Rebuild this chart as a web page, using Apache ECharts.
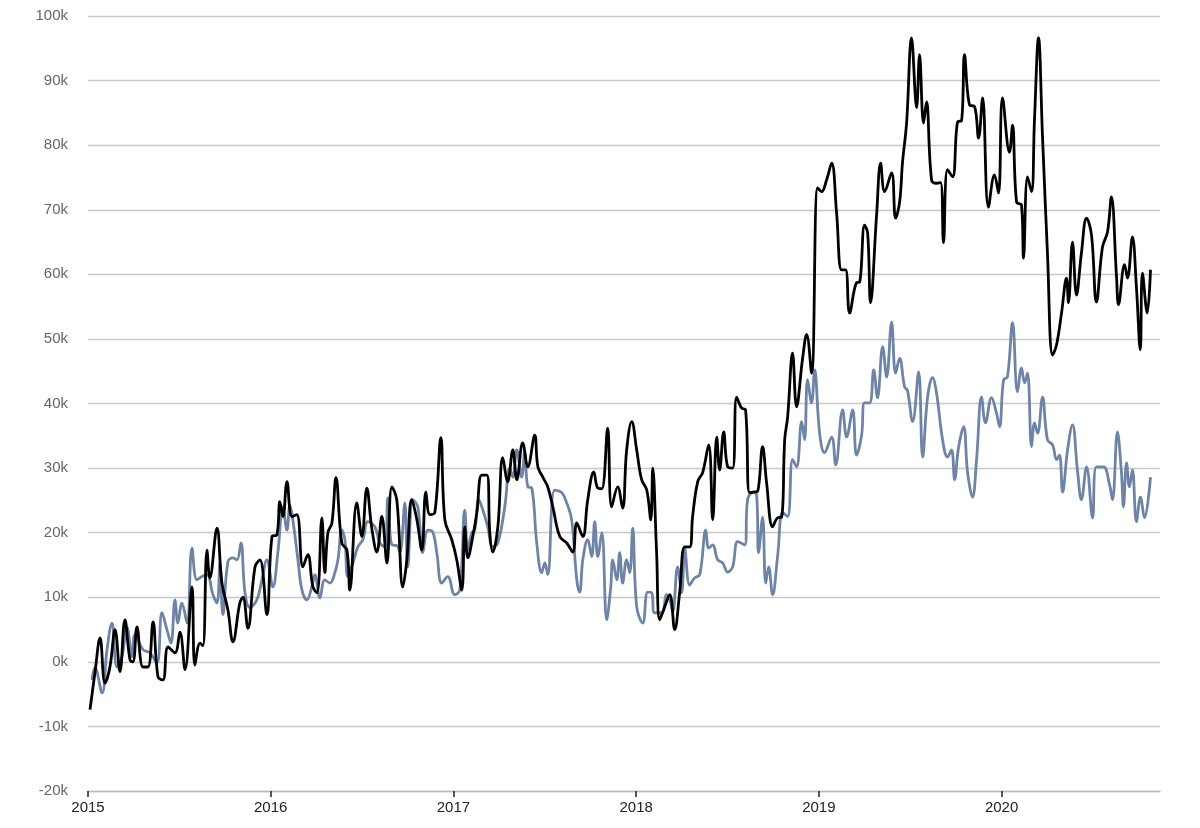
<!DOCTYPE html>
<html><head><meta charset="utf-8">
<script src="https://cdn.jsdelivr.net/npm/echarts@6/dist/echarts.min.js"></script>
<style>html,body{margin:0;padding:0;background:#fff}#c{width:1200px;height:828px}</style>
</head><body><div id="c"></div>
<script>
// years after 2015 (decimal) and values in thousands
const blackT = [0.011,0.038,0.066,0.093,0.120,0.148,0.175,0.202,0.230,0.246,0.268,0.301,0.328,0.356,0.383,0.410,0.438,0.476,0.503,0.531,0.569,0.585,0.613,0.629,0.651,0.667,0.706,0.733,0.766,0.793,0.831,0.848,0.875,0.914,0.941,0.979,1.007,1.034,1.050,1.067,1.089,1.116,1.143,1.176,1.203,1.231,1.253,1.280,1.296,1.313,1.335,1.357,1.389,1.417,1.433,1.471,1.499,1.526,1.553,1.581,1.608,1.636,1.663,1.690,1.723,1.745,1.772,1.800,1.827,1.849,1.871,1.898,1.931,1.953,1.991,2.018,2.046,2.062,2.079,2.106,2.128,2.155,2.183,2.199,2.215,2.243,2.270,2.297,2.325,2.347,2.379,2.407,2.445,2.462,2.489,2.516,2.544,2.582,2.620,2.653,2.675,2.708,2.735,2.768,2.790,2.812,2.844,2.866,2.899,2.926,2.948,2.976,3.003,3.030,3.058,3.080,3.091,3.112,3.129,3.156,3.184,3.211,3.238,3.266,3.293,3.309,3.337,3.364,3.397,3.419,3.441,3.457,3.479,3.501,3.528,3.550,3.577,3.599,3.621,3.648,3.665,3.692,3.714,3.747,3.774,3.796,3.813,3.829,3.856,3.878,3.911,3.933,3.960,3.993,4.015,4.042,4.070,4.097,4.124,4.146,4.168,4.206,4.223,4.250,4.267,4.283,4.316,4.338,4.360,4.398,4.420,4.442,4.458,4.480,4.507,4.535,4.551,4.573,4.589,4.617,4.644,4.666,4.682,4.704,4.732,4.759,4.781,4.797,4.825,4.852,4.874,4.896,4.928,4.961,4.983,5.005,5.043,5.060,5.082,5.109,5.120,5.142,5.164,5.180,5.202,5.224,5.251,5.279,5.301,5.328,5.355,5.366,5.388,5.410,5.437,5.465,5.492,5.519,5.552,5.580,5.601,5.629,5.640,5.673,5.689,5.716,5.738,5.759,5.771,5.797,5.815];
const blackV = [-7.4,-1.7,3.7,-3.3,-0.8,5,-1.5,6.5,0.3,0,5.4,-0.8,-0.8,6.2,-2.3,-2.8,2.3,1.4,4.6,-1.2,11.6,-0.5,2.9,2.5,17.3,13,20.7,12.2,8,3.1,9.1,10,5.2,14.7,15.8,7.3,19.4,19.7,24.8,22.5,27.9,22.5,22.8,14.7,16.6,11.6,10.7,22.3,13.8,20,21.5,28.5,18.4,17.3,11.1,24.6,19.4,26.9,20.7,17,22.5,15.3,27.1,25.1,11.6,15.8,25.1,22,17.3,26.3,22.8,23.1,34.7,22,18.9,15.8,11.1,20.9,16.1,19.4,23.1,28.9,28.9,20,17,20.9,31.6,27.9,32.8,28.2,33.9,30.2,35.1,30.2,28.6,27.1,24,19.4,18.4,17,21.5,19.4,25.1,29.4,26.9,26.8,36.2,24,27.1,23.8,32.8,37.2,32.8,28.2,26.6,22,30,16.9,6.5,8.5,10.4,5,10.7,17.8,17.8,22.5,27.9,29.3,33.6,22,34.8,29.7,35.6,30.2,30,41,39.3,39,26.2,26.3,26.4,33.3,27.7,20.9,22.3,22.4,34.4,37.9,47.8,39.5,47,50.7,44.7,73.4,72.8,74.6,77.2,69.5,60.7,60.7,54,58.7,58.8,67.6,66.4,55.6,69.2,77.2,72.8,75.7,68.7,71.2,77.4,83.4,96.6,85.8,94,83.4,86.7,74.6,74.1,74.2,64.9,76.2,75.1,83.6,83.8,94,86.2,86,81.1,87.3,70.4,75.4,72.6,87.3,78.9,83.1,71.2,70.7,62.5,75.1,72.8,83.9,96.6,81.3,63.3,47.5,49.1,54,59.4,55.6,65,56.8,63.3,68.7,66.1,55.7,64.2,66.6,72,59.6,55.3,61.5,59.4,65.8,58,48.3,60.2,54,60.7];
const blueT = [0.022,0.038,0.077,0.104,0.131,0.159,0.186,0.213,0.241,0.257,0.301,0.339,0.377,0.405,0.432,0.454,0.476,0.492,0.514,0.542,0.569,0.596,0.624,0.651,0.684,0.706,0.722,0.738,0.766,0.793,0.815,0.837,0.859,0.886,0.924,0.952,0.979,1.012,1.039,1.067,1.089,1.105,1.121,1.149,1.171,1.198,1.225,1.242,1.269,1.296,1.324,1.351,1.368,1.389,1.406,1.422,1.450,1.477,1.504,1.532,1.570,1.597,1.625,1.641,1.663,1.690,1.707,1.734,1.750,1.778,1.805,1.832,1.860,1.887,1.909,1.936,1.969,2.007,2.035,2.062,2.079,2.100,2.117,2.139,2.161,2.188,2.215,2.243,2.281,2.308,2.325,2.347,2.374,2.390,2.407,2.429,2.456,2.483,2.500,2.516,2.554,2.593,2.620,2.647,2.675,2.691,2.708,2.735,2.757,2.773,2.790,2.812,2.839,2.861,2.872,2.894,2.910,2.926,2.948,2.965,2.981,3.003,3.036,3.063,3.085,3.101,3.140,3.167,3.184,3.200,3.227,3.249,3.266,3.293,3.320,3.348,3.381,3.397,3.419,3.446,3.474,3.501,3.528,3.556,3.594,3.610,3.638,3.659,3.670,3.692,3.709,3.725,3.747,3.774,3.802,3.829,3.856,3.878,3.906,3.922,3.938,3.960,3.977,4.004,4.031,4.070,4.092,4.130,4.152,4.185,4.206,4.234,4.250,4.278,4.300,4.321,4.349,4.371,4.398,4.420,4.442,4.469,4.485,4.513,4.546,4.568,4.595,4.622,4.644,4.677,4.704,4.726,4.743,4.764,4.792,4.814,4.841,4.863,4.890,4.912,4.945,4.972,4.989,5.011,5.032,5.060,5.087,5.109,5.126,5.142,5.164,5.180,5.197,5.224,5.251,5.279,5.301,5.317,5.334,5.361,5.388,5.415,5.437,5.465,5.498,5.519,5.558,5.591,5.607,5.634,5.656,5.667,5.684,5.700,5.716,5.738,5.760,5.782,5.815];
const blueV = [-2.8,-0.9,-4.8,1.9,6,-0.8,0.8,5.4,0.8,4.2,1.9,1.4,-0.2,7.6,5,2.9,9.6,6,9.1,6,17.6,12.7,13.2,13.5,10.4,9.1,15.3,7.3,15.5,16.1,15.8,18.4,10.7,8.4,9.6,12.7,15.8,11.6,16.9,24,20.4,24.3,22,15.8,11.1,9.6,11.6,13.5,9.9,12.7,12.2,13.8,15.8,20.4,18.9,13.2,15.3,17.8,18.9,21.7,20.9,18.4,17.8,25.4,18.1,18,17,24.6,14.7,25.1,24,16.9,20.4,20.1,16.9,12.2,13.2,10.4,11.1,23.5,17.3,20,20.4,25.1,23.5,20.9,17.8,18.4,24,30,28.6,32.8,28.6,32.5,27.1,26.9,18.4,13.8,15.3,13.5,26.6,26.2,24.6,22,12.7,10.8,15.8,18.9,16.3,21.7,16.3,20,6.5,11.6,15.8,12.7,16.9,12.2,15.8,13.8,20.7,8.5,6,10.8,10.7,7.6,7.6,10.4,9.6,7.7,14.7,10.7,17.6,11.9,13,13.5,20.4,17.6,18.1,15.8,15.3,13.9,14.7,18.6,18.1,25.1,26.2,25.9,16.9,22.4,12.2,14.7,10.4,16.3,23.1,22.5,31.3,30.2,37.2,34.4,43.7,40.1,45.2,35.4,32.4,34.8,30.5,39,34.8,39,32,35.1,40.1,40.1,45.2,40.9,48.8,44.1,52.6,44.7,47,42.6,42,37.2,44.9,31.7,41,44,41.6,34.4,31.7,32.8,28.2,33.1,36.4,29.3,25.5,31.3,41,37,40.9,38.5,36.4,43.7,44.1,52.5,41.8,45.5,43.2,44.7,33.3,37,35.4,41,34.4,33.6,31.3,32,26.3,32.8,36.7,29.7,25.1,30.2,22.3,30.2,30.2,27.4,25.1,35.6,29.3,24,30.8,27.1,29.7,21.7,25.5,22.3,28.6];
const startYear = 2015;
const yearTicks = [2015,2016,2017,2018,2019,2020];

const toPairs = (t, v) => t.map((x, i) => [startYear + x, v[i] * 1000]);
const chart = echarts.init(document.getElementById('c'));
chart.setOption({
  animation: false,
  grid: {left: 88, right: 40, top: 16, bottom: 37},
  xAxis: {
    type: 'value', min: 2015, max: 2020.867, interval: 1,
    axisLine: {onZero: false, lineStyle: {color: '#bbb', width: 1.3}},
    axisTick: {show: true, lineStyle: {color: '#222', width: 1.5}, length: 6},
    splitLine: {show: false},
    axisLabel: {color: '#222', fontSize: 15, fontFamily: 'Liberation Sans', margin: 9, showMaxLabel: false,
      formatter: v => yearTicks.includes(Math.round(v)) && Math.abs(v - Math.round(v)) < 1e-6 ? String(Math.round(v)) : ''}
  },
  yAxis: {
    type: 'value', min: -20000, max: 100000, interval: 10000,
    axisLine: {show: false}, axisTick: {show: false},
    splitLine: {lineStyle: {color: '#c8c8c8', width: 1.3}},
    axisLabel: {color: '#666', fontSize: 15, fontFamily: 'Liberation Sans', margin: 20,
      formatter: v => (v / 1000) + 'k'}
  },
  series: [
    {type: 'line', data: toPairs(blueT, blueV), smooth: 0.4, showSymbol: false,
     lineStyle: {color: '#6e84a6', width: 2.8}},
    {type: 'line', data: toPairs(blackT, blackV), smooth: 0.4, showSymbol: false,
     lineStyle: {color: '#000', width: 2.8}}
  ]
});
</script></body></html>
